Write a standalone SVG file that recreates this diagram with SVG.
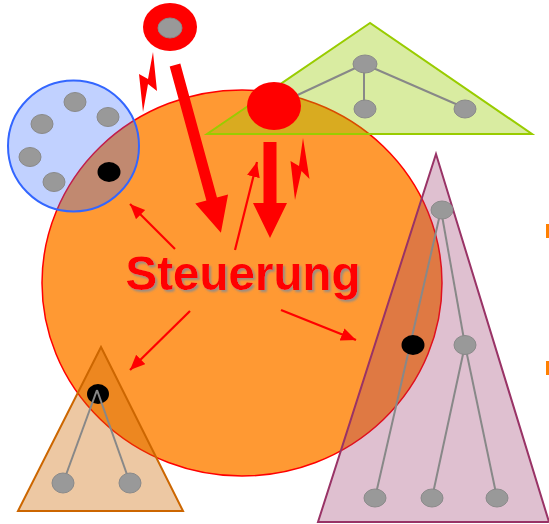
<svg xmlns="http://www.w3.org/2000/svg" width="549" height="524" viewBox="0 0 549 524">
<defs>
<style>
.gn{fill:#999999;stroke:#8a8a8a;stroke-width:1}
.bk{fill:#000000}
.ln{stroke:#888888;stroke-width:2;fill:none}
.big{fill:#ff0000}
.thin{stroke:#ff0000;stroke-width:2.2;fill:none;marker-end:url(#ah)}
.lbl{font-family:"Liberation Sans",Arial,sans-serif;font-weight:bold;font-size:47.5px;text-anchor:middle}
</style>
<filter id="sh" x="-10%" y="-30%" width="120%" height="160%">
<feDropShadow dx="2" dy="2" stdDeviation="1" flood-color="#8c8c8c" flood-opacity="0.9"/>
</filter>
<marker id="ah" markerUnits="userSpaceOnUse" markerWidth="16" markerHeight="14" refX="15" refY="6.5" orient="auto">
<path d="M0,0 L15,6.5 L0,13 Z" fill="#ff0000"/>
</marker>
</defs>
<rect width="549" height="524" fill="#ffffff"/>

<g id="steuerung-circle">
<ellipse cx="242" cy="283" rx="200" ry="193" fill="#ff9933" stroke="#ff0000" stroke-width="1.5"/>
</g>

<g id="blue-cluster">
<circle cx="73.5" cy="146" r="65.5" fill="#3366ff" fill-opacity="0.3" stroke="#3366ff" stroke-width="2"/>
<ellipse class="gn" cx="75" cy="102" rx="11" ry="9.5"/>
<ellipse class="gn" cx="108" cy="117" rx="11" ry="9.5"/>
<ellipse class="gn" cx="42" cy="124" rx="11" ry="9.5"/>
<ellipse class="gn" cx="30" cy="157" rx="11" ry="9.5"/>
<ellipse class="gn" cx="54" cy="182" rx="11" ry="9.5"/>
<ellipse class="bk" cx="109" cy="172" rx="11.5" ry="10"/>
</g>

<g id="green-tree">
<polygon points="370,23 207,134 532,134" fill="#99cc00" fill-opacity="0.37" stroke="#99cc00" stroke-width="2"/>
<line class="ln" x1="364" y1="64" x2="274" y2="106"/>
<line class="ln" x1="364" y1="64" x2="364" y2="108"/>
<line class="ln" x1="364" y1="64" x2="465" y2="108"/>
<ellipse class="gn" cx="365" cy="64" rx="12" ry="9"/>
<ellipse class="gn" cx="365" cy="109" rx="11" ry="9"/>
<ellipse class="gn" cx="465" cy="109" rx="11" ry="9"/>
<ellipse cx="274" cy="106" rx="27" ry="24" fill="#ff0000"/>
</g>

<g id="tan-tree">
<polygon points="101,347 18,511 183,511" fill="#cc6600" fill-opacity="0.36" stroke="#cc6600" stroke-width="2"/>
<ellipse class="bk" cx="98" cy="394" rx="11" ry="10"/>
<line class="ln" x1="97" y1="390" x2="63" y2="483"/>
<line class="ln" x1="97" y1="390" x2="130" y2="483"/>
<ellipse class="gn" cx="63" cy="483" rx="11" ry="10"/>
<ellipse class="gn" cx="130" cy="483" rx="11" ry="10"/>
</g>

<g id="pink-tree">
<polygon points="436,154 318,522 549,522" fill="#993366" fill-opacity="0.31" stroke="#993366" stroke-width="2"/>
<line class="ln" x1="441" y1="210" x2="375" y2="498"/>
<line class="ln" x1="441" y1="210" x2="465" y2="345"/>
<line class="ln" x1="465" y1="345" x2="432" y2="498"/>
<line class="ln" x1="465" y1="345" x2="497" y2="498"/>
<ellipse class="gn" cx="442" cy="210" rx="11" ry="9"/>
<ellipse class="bk" cx="413" cy="345" rx="11.5" ry="10"/>
<ellipse class="gn" cx="465" cy="345" rx="11" ry="9.5"/>
<ellipse class="gn" cx="375" cy="498" rx="11" ry="9"/>
<ellipse class="gn" cx="432" cy="498" rx="11" ry="9"/>
<ellipse class="gn" cx="497" cy="498" rx="11" ry="9"/>
</g>

<g id="source">
<ellipse cx="170" cy="27" rx="27" ry="24" fill="#ff0000"/>
<ellipse class="gn" cx="170" cy="28" rx="12" ry="10" stroke="none"/>
</g>

<g id="bullets">
<rect x="546" y="224" width="3" height="14" fill="#ff8000"/>
<rect x="546" y="361" width="3" height="14" fill="#ff8000"/>
</g>

<g id="connectors">
<polygon class="big" transform="translate(175,65) rotate(74.7)" points="0,-5.5 139,-5.5 139,-17 174,0 139,17 139,5.5 0,5.5"/>
<polygon class="big" points="263.5,142 276.5,142 276.5,203 287,203 270,238 253,203 263.5,203"/>
<polygon class="big" points="153,52 157,91 148,84 143,112 139,74 148,79"/>
<polygon class="big" points="303,138 309.5,179 301.5,171 295,200 290.5,161 299,166"/>
<line class="thin" x1="235" y1="250" x2="257" y2="162"/>
<line class="thin" x1="175" y1="249" x2="130" y2="204"/>
<line class="thin" x1="190" y1="311" x2="130" y2="370"/>
<line class="thin" x1="281" y1="310" x2="356" y2="340"/>
</g>

<g id="label">
<text class="lbl" x="243" y="290" fill="#ff0000" filter="url(#sh)">Steuerung</text>
</g>
</svg>
